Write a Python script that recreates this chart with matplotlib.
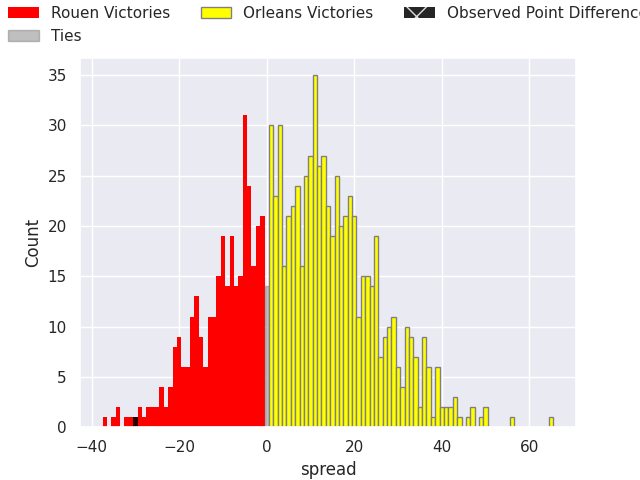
import matplotlib

matplotlib.use("Agg")
import matplotlib.pyplot as plt
import seaborn as sns

# point spread (Orleans minus Rouen) and how many simulated games ended that way
rouen_spread = [-37, -35, -34, -32, -31, -30, -29, -28, -27, -26, -25, -24, -23, -22, -21,
                -20, -19, -18, -17, -16, -15, -14, -13, -12, -11, -10, -9, -8, -7, -6,
                -5, -4, -3, -2, -1]
rouen_count = [1, 1, 2, 1, 1, 1, 2, 1, 2, 2, 2, 4, 2, 4, 8,
               9, 6, 6, 11, 13, 9, 6, 11, 11, 15, 19, 14, 19, 14, 15,
               31, 24, 16, 20, 21]

orleans_spread = [1, 2, 3, 4, 5, 6, 7, 8, 9, 10, 11, 12, 13, 14, 15, 16, 17, 18, 19, 20,
                  21, 22, 23, 24, 25, 26, 27, 28, 29, 30, 31, 32, 33, 34, 35, 36, 37, 38,
                  39, 40, 41, 42, 43, 44, 46, 47, 49, 50, 56, 65]
orleans_count = [30, 23, 30, 16, 21, 22, 24, 16, 25, 27, 35, 26, 27, 22, 19, 25, 20, 21, 23, 21,
                 11, 15, 15, 14, 19, 7, 9, 10, 11, 6, 4, 10, 9, 7, 2, 9, 6, 1,
                 6, 2, 2, 2, 3, 1, 1, 2, 1, 2, 1, 1]

tie_spread = [0]
tie_count = [14]

observed_spread = [-30]
observed_count = [1]

sns.set_theme(style="darkgrid")

fig, ax = plt.subplots(figsize=(6.4, 4.8), dpi=100)
ax.bar(rouen_spread, rouen_count, width=1, color="red", linewidth=0, label="Rouen Victories")
ax.bar(tie_spread, tie_count, width=1, color="grey", edgecolor="grey", alpha=0.5,
       linewidth=1, label="Ties")
ax.bar(orleans_spread, orleans_count, width=1, facecolor="yellow", edgecolor="grey",
       linewidth=1, label="Orleans Victories")
ax.bar(observed_spread, observed_count, width=1, facecolor="black", edgecolor="white",
       hatch="x", alpha=0.85, linewidth=0, label="Observed Point Difference")

ax.set_xlabel("spread")
ax.set_ylabel("Count")
leg = fig.legend(loc="upper left", bbox_to_anchor=(0.003, 1.0), borderaxespad=0, ncol=3,
                 frameon=False)
for handle in leg.legend_handles:
    if handle.get_label() == "Orleans Victories":
        handle.set_edgecolor("black")
    if handle.get_label() == "Ties":
        handle.set_linewidth(0)
    if handle.get_label() == "Observed Point Difference":
        handle.set_alpha(1)

fig.savefig("out.png")
